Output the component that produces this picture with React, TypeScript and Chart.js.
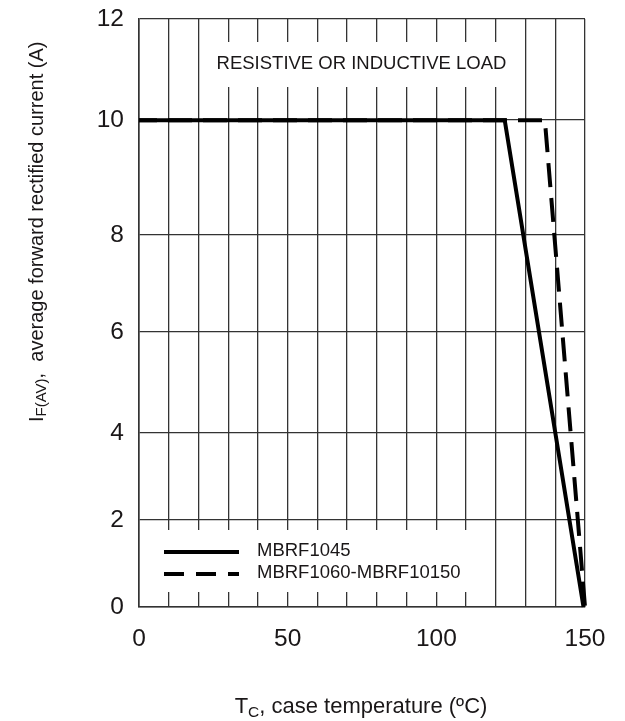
import React, { useEffect, useRef } from 'react';
import { Chart, registerables, LinearScale } from 'chart.js';

Chart.register(...registerables);

// ---- data ----
const seriesNames = ['MBRF1045', 'MBRF1060-MBRF10150'];
const mbrf1045Temp = [0, 123, 149.5];
const mbrf1045Current = [10, 10, 0];
const mbrf1060Temp = [0, 136.5, 150];
const mbrf1060Current = [10, 10, 0];
const xTickLabels = [0, 50, 100, 150];
const yTickValues = [0, 2, 4, 6, 8, 10, 12];
// the reference grid is not evenly spaced: share of the axis height at each y tick
const yTickFractions = [0, 0.148, 0.296, 0.468, 0.633, 0.828, 1];
const noteText = 'RESISTIVE OR INDUCTIVE LOAD';

const FONT = '"Liberation Sans", Arial, Helvetica, sans-serif';
const INK = '#1a1718';

function valueToFraction(v: number): number {
  const n = yTickValues.length;
  let i = 1;
  while (i < n - 1 && v > yTickValues[i]) i++;
  const a = yTickValues[i - 1], b = yTickValues[i];
  const fa = yTickFractions[i - 1], fb = yTickFractions[i];
  return fa + ((v - a) / (b - a)) * (fb - fa);
}
function fractionToValue(f: number): number {
  const n = yTickFractions.length;
  let i = 1;
  while (i < n - 1 && f > yTickFractions[i]) i++;
  const a = yTickFractions[i - 1], b = yTickFractions[i];
  const va = yTickValues[i - 1], vb = yTickValues[i];
  return va + ((f - a) / (b - a)) * (vb - va);
}

class PiecewiseLinearScale extends LinearScale {
  static id = 'piecewiseLinear';
  static defaults = LinearScale.defaults;
  getPixelForValue(value: any) {
    if (value === null || value === undefined || isNaN(value)) return NaN;
    return this.getPixelForDecimal(valueToFraction(value));
  }
  getValueForPixel(pixel: number) {
    return fractionToValue(this.getDecimalForPixel(pixel));
  }
}
Chart.register(PiecewiseLinearScale as any);

type Part = { text: string; size: number; dy: number };
function drawParts(ctx: CanvasRenderingContext2D, parts: Part[], x: number, y: number) {
  let cx = x;
  for (const p of parts) {
    ctx.font = `${p.size}px ${FONT}`;
    ctx.fillText(p.text, cx, y + p.dy);
    cx += ctx.measureText(p.text).width;
  }
  return cx - x;
}
function measureParts(ctx: CanvasRenderingContext2D, parts: Part[]) {
  let w = 0;
  for (const p of parts) {
    ctx.font = `${p.size}px ${FONT}`;
    w += ctx.measureText(p.text).width;
  }
  return w;
}

const decorPlugin = {
  id: 'decor',
  beforeDatasetsDraw(chart: any) {
    const { ctx, chartArea } = chart;
    const L = chartArea.left;
    ctx.save();
    ctx.fillStyle = '#ffffff';
    // note box
    ctx.fillRect(L + 68, 42, 313, 45);
    // legend box
    ctx.fillRect(L + 1.5, 530, 338, 62);
    ctx.fillStyle = INK;
    ctx.font = `18.5px ${FONT}`;
    ctx.textAlign = 'center';
    ctx.textBaseline = 'middle';
    ctx.fillText(noteText, 361.5, 64);

    // legend entries
    ctx.strokeStyle = '#000';
    ctx.lineWidth = 4;
    ctx.lineCap = 'butt';
    ctx.setLineDash([]);
    ctx.beginPath();
    ctx.moveTo(164, 552);
    ctx.lineTo(239, 552);
    ctx.stroke();
    ctx.setLineDash([20, 12]);
    ctx.beginPath();
    ctx.moveTo(164, 574);
    ctx.lineTo(239, 574);
    ctx.stroke();
    ctx.setLineDash([]);
    ctx.textAlign = 'left';
    ctx.fillText(seriesNames[0], 257, 551);
    ctx.fillText(seriesNames[1], 257, 573);
    ctx.restore();
  },
  afterDraw(chart: any) {
    const { ctx } = chart;
    ctx.save();
    ctx.fillStyle = INK;
    ctx.textBaseline = 'alphabetic';
    ctx.textAlign = 'left';
    // x title
    const xParts: Part[] = [
      { text: 'T', size: 22, dy: 0 },
      { text: 'C', size: 15.5, dy: 4 },
      { text: ', case temperature (\u00baC)', size: 22, dy: 0 },
    ];
    const xw = measureParts(ctx, xParts);
    drawParts(ctx, xParts, 361 - xw / 2, 713);
    // y title (rotated)
    const yParts: Part[] = [
      { text: 'I', size: 20, dy: 0 },
      { text: 'F(AV)', size: 15, dy: 3 },
      { text: ',  average forward rectified current (A)', size: 20, dy: 0 },
    ];
    ctx.translate(43, 422);
    ctx.rotate(-Math.PI / 2);
    drawParts(ctx, yParts, 0, 0);
    ctx.restore();
  },
};

export default function App() {
  const ref = useRef<HTMLCanvasElement | null>(null);
  useEffect(() => {
    if (!ref.current) return;
    const chart = new Chart(ref.current, {
      type: 'line',
      data: {
        datasets: [
          {
            label: seriesNames[0],
            data: mbrf1045Temp.map((t, i) => ({ x: t, y: mbrf1045Current[i] })),
            borderColor: '#000',
            borderWidth: 4,
            pointRadius: 0,
            tension: 0,
            fill: false,
            clip: false as any,
            borderJoinStyle: 'miter',
          },
          {
            label: seriesNames[1],
            data: mbrf1060Temp.map((t, i) => ({ x: t, y: mbrf1060Current[i] })),
            borderColor: '#000',
            borderWidth: 4,
            borderDash: [24, 11],
            borderDashOffset: 6,
            pointRadius: 0,
            tension: 0,
            fill: false,
            clip: false as any,
            borderJoinStyle: 'miter',
          },
        ],
      },
      options: {
        responsive: false,
        animation: false,
        events: [],
        layout: { padding: { left: 0, top: 19, right: 40, bottom: 0 } },
        plugins: { legend: { display: false }, tooltip: { enabled: false }, title: { display: false } },
        scales: {
          x: {
            type: 'linear',
            min: 0,
            max: 150,
            afterFit: (s: any) => {
              s.height = 114;
              s.paddingLeft = 0;
              s.paddingRight = 0;
              s.paddingTop = 0;
              s.paddingBottom = 0;
            },
            afterBuildTicks: (s: any) => {
              const t = [];
              for (let v = 0; v <= 150; v += 10) t.push({ value: v });
              s.ticks = t;
            },
            ticks: {
              autoSkip: false,
              maxRotation: 0,
              padding: 18,
              color: INK,
              font: { family: FONT, size: 24.5 },
              callback: (v: any) => (xTickLabels.includes(Number(v)) ? String(v) : ''),
            },
            grid: { color: '#333', lineWidth: 1.3, drawTicks: false },
            border: { display: true, color: '#333', width: 1.6 },
          },
          y: {
            type: 'piecewiseLinear' as any,
            min: 0,
            max: 12,
            afterFit: (s: any) => {
              s.width = 139;
              s.paddingLeft = 0;
              s.paddingRight = 0;
              s.paddingTop = 0;
              s.paddingBottom = 0;
            },
            afterBuildTicks: (s: any) => {
              s.ticks = yTickValues.map((v) => ({ value: v }));
            },
            ticks: {
              padding: 15,
              color: INK,
              font: { family: FONT, size: 24.5 },
              callback: (v: any) => String(v),
            },
            grid: { color: '#333', lineWidth: 1.3, drawTicks: false },
            border: { display: true, color: '#333', width: 1.6 },
          },
        },
      },
      plugins: [decorPlugin],
    } as any);
    return () => chart.destroy();
  }, []);
  return (
    <div style={{ position: 'absolute', left: 0, top: 0, width: 625, height: 721, background: '#fff' }}>
      <canvas ref={ref} width={625} height={721} style={{ display: 'block' }} />
    </div>
  );
}
